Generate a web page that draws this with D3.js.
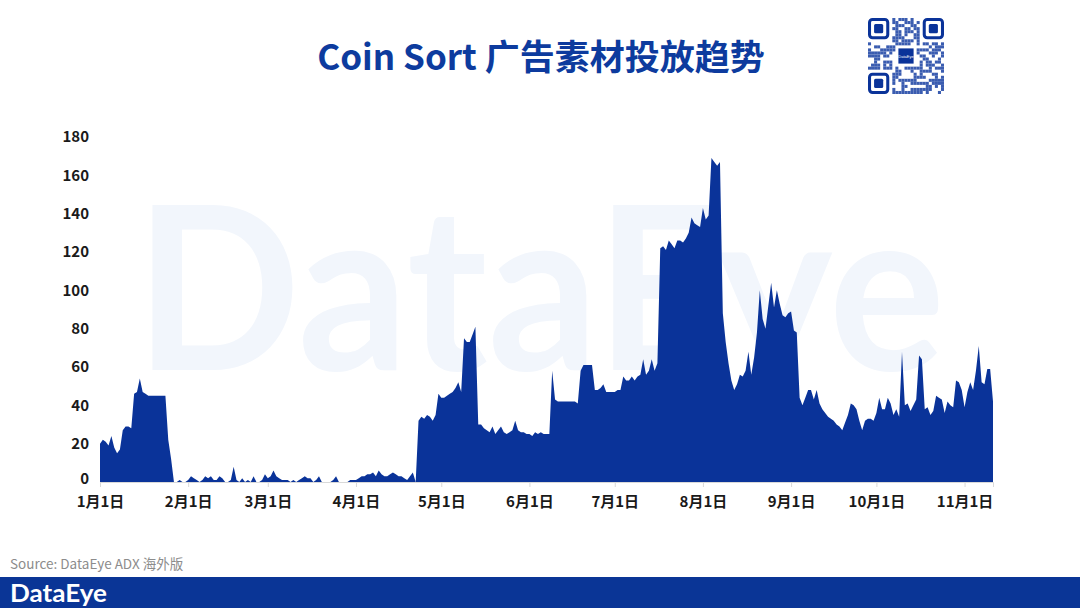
<!DOCTYPE html>
<html><head><meta charset="utf-8">
<script src="https://cdn.jsdelivr.net/npm/d3@7"></script>
<style>
html,body{margin:0;padding:0;background:#fff;}
svg{display:block;}
</style></head>
<body>
<svg id="chart" width="1080" height="608"></svg>
<script>
// ---- data ----
const startDate = "2023-01-01";
const values = [
20,22,21,19,24,18,15,17,27,29,29,28,46,47,54,47,46,45,45,45,45,45,45,45,22,12,
0,0,1,0,0,1,3,2,1,0,1,3,2,3,1,1,3,2,0,0,1,8,1,0,2,0,1,0,3,0,0,1,4,2,3,6,3,2,1,1,1,0,1,0,1,2,3,2,2,0,1,3,0,0,0,0,1,3,0,0,0,0,1,1,1,2,3,3,4,4,5,3,6,4,3,3,4,5,4,3,3,2,1,3,5,0,
32,34,33,35,34,32,35,46,44,44,45,46,47,49,52,47,75,73,73,77,81,
30,30,28,27,26,29,25,27,29,26,25,26,27,32,27,26,26,25,25,24,26,25,26,25,25,25,
58,43,42,42,42,42,42,42,42,41,58,61,61,61,61,48,48,49,51,47,47,47,47,48,48,55,53,53,55,53,55,56,64,56,58,64,58,62,
122,123,121,126,124,122,126,126,125,127,130,138,135,134,133,143,137,139,169,167,165,167,
88,73,62,53,48,51,56,55,58,68,56,65,78,100,85,80,92,104,91,100,93,87,86,88,89,79,78,
44,40,44,48,48,43,48,41,38,36,34,33,32,30,29,27,31,35,41,40,38,32,27,32,33,33,32,36,44,38,38,44,41,35,38,34,68,40,41,37,40,43,66,64,38,39,35,37,45,44,43,36,42,40,39,53,52,48,39,47,52,48,58,71,52,51,59,59,42
];
const yTicks = [0,20,40,60,80,100,120,140,160,180];
const monthTicks = ["2023-01-01","2023-02-01","2023-03-01","2023-04-01","2023-05-01","2023-06-01","2023-07-01","2023-08-01","2023-09-01","2023-10-01","2023-11-01"];
const titleText = "Coin Sort 广告素材投放趋势";
const sourceText = "Source: DataEye ADX 海外版";

// ---- build ----
const parse = d3.timeParse("%Y-%m-%d");
const d0 = parse(startDate);
const data = values.map((v,i)=>({date:d3.timeDay.offset(d0,i), v}));

const svg = d3.select("#chart");
const blue = "#0a3399";

// watermark
svg.append("text").attr("x",135).attr("y",370)
  .attr("textLength",810).attr("lengthAdjust","spacingAndGlyphs")
  .style("font-family","Lato, 'Open Sans', sans-serif").style("font-weight",700)
  .style("font-size","228px").style("fill","#f2f6fc").text("DataEye");

const x = d3.scaleTime().domain([data[0].date, data[data.length-1].date]).range([100,993]);
const y = d3.scaleLinear().domain([0,180]).range([482,137]);

// area
svg.append("path").datum(data)
  .attr("d", d3.area().x(d=>x(d.date)).y0(y(0)).y1(d=>y(d.v)))
  .attr("fill", blue);

// x axis
const xAxis = svg.append("g").attr("transform",`translate(0,${y(0)})`)
  .call(d3.axisBottom(x).tickValues(monthTicks.map(parse)).tickSize(5).tickPadding(9)
    .tickFormat(d=>(d.getMonth()+1)+"月1日"));
xAxis.select(".domain").attr("stroke","#d9d9d9");
xAxis.selectAll(".tick line").attr("stroke","#d9d9d9");
xAxis.selectAll("text").style("font-family","'Noto Sans CJK SC', sans-serif")
  .style("font-weight",700).style("font-size","15px").attr("fill","#1a1a1a");

// y axis
const yAxis = svg.append("g").attr("transform","translate(92,0)")
  .call(d3.axisLeft(y).tickValues(yTicks).tickSize(0).tickPadding(3));
yAxis.select(".domain").remove();
yAxis.selectAll("text").style("font-family","'Noto Sans CJK SC', sans-serif")
  .style("font-weight",700).style("font-size","15px").attr("fill","#1a1a1a")
  .attr("dy", d => d===0 ? "0.1em" : "0.32em");

// title
svg.append("text").attr("x",541).attr("y",70).attr("text-anchor","middle")
  .style("font-family","'Noto Sans CJK SC', sans-serif").style("font-weight",700)
  .style("font-size","35px").style("fill","#0d3b9e").text(titleText);

// QR-like decoration
const qr = svg.append("g").attr("transform","translate(868,18)");
const N=25, m=76/N;
let seed = 7;
function rnd(){ seed = (seed*9301+49297)%233280; return seed/233280; }
for(let r=0;r<N;r++) for(let c=0;c<N;c++){
  const inFinder = (r<8&&c<8)||(r<8&&c>=N-8)||(r>=N-8&&c<8);
  const inCenter = r>=9&&r<16&&c>=9&&c<16;
  if(inFinder||inCenter) continue;
  if(rnd()<0.5) qr.append("rect").attr("x",c*m).attr("y",r*m).attr("width",m).attr("height",m).attr("fill","#3a5cb0");
}
[[0,0],[N-7,0],[0,N-7]].forEach(([c,r])=>{
  qr.append("rect").attr("x",c*m+m/2).attr("y",r*m+m/2).attr("width",6*m).attr("height",6*m).attr("rx",3).attr("fill","none").attr("stroke",blue).attr("stroke-width",m);
  qr.append("rect").attr("x",(c+2)*m).attr("y",(r+2)*m).attr("width",3*m).attr("height",3*m).attr("rx",1.5).attr("fill",blue);
});
qr.append("rect").attr("x",10*m).attr("y",10*m).attr("width",5*m).attr("height",5*m).attr("fill",blue);
qr.append("text").attr("x",12.5*m).attr("y",12.5*m+2).attr("text-anchor","middle").style("font-size","4px").style("fill","#fff").style("font-family","sans-serif").text("DataEye");

// source
svg.append("text").attr("x",10).attr("y",569)
  .style("font-family","'Noto Sans CJK SC', sans-serif").style("font-size","13.5px")
  .style("fill","#8c8c8c").text(sourceText);

// footer
svg.append("rect").attr("x",0).attr("y",577).attr("width",1080).attr("height",31).attr("fill","#0a3596");
svg.append("text").attr("x",10).attr("y",602)
  .attr("textLength",97).attr("lengthAdjust","spacingAndGlyphs")
  .style("font-family","Lato, sans-serif").style("font-weight",700).style("font-size","25px")
  .style("fill","#fff").text("DataEye");
</script>
</body></html>
